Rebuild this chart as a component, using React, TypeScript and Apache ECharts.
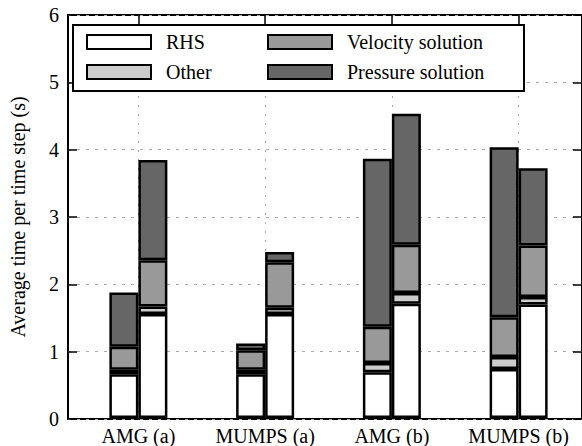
import React, { useEffect, useRef } from "react";
import * as echarts from "echarts";

const categories = ["AMG (a)", "MUMPS (a)", "AMG (b)", "MUMPS (b)"];
const yTicks = [0, 1, 2, 3, 4, 5, 6];

// left bar of each group
const rhsLeft = [0.65, 0.65, 0.68, 0.73];
const otherLeft = [0.07, 0.07, 0.14, 0.18];
const velocityLeft = [0.34, 0.29, 0.54, 0.59];
const pressureLeft = [0.81, 0.1, 2.5, 2.53];
// right bar of each group
const rhsRight = [1.55, 1.55, 1.7, 1.69];
const otherRight = [0.11, 0.09, 0.16, 0.11];
const velocityRight = [0.69, 0.68, 0.72, 0.77];
const pressureRight = [1.49, 0.15, 1.95, 1.15];

const FONT = "Liberation Serif";

export default function App() {
  const ref = useRef<HTMLDivElement>(null);
  useEffect(() => {
    if (!ref.current) return;
    document.body.style.margin = "0";
    const chart = echarts.init(ref.current, null, { renderer: "svg" });
    const layers = [
      { name: "RHS", color: "#ffffff", left: rhsLeft, right: rhsRight },
      { name: "Other", color: "#cccccc", left: otherLeft, right: otherRight },
      { name: "Velocity solution", color: "#999999", left: velocityLeft, right: velocityRight },
      { name: "Pressure solution", color: "#666666", left: pressureLeft, right: pressureRight },
    ];
    const series: any[] = [];
    layers.forEach((l) => {
      ["left", "right"].forEach((side) => {
        series.push({
          type: "bar",
          name: l.name,
          xAxisIndex: 1,
          yAxisIndex: 2,
          stack: side,
          barWidth: 29,
          barGap: "0%",
          data: (l as any)[side],
          itemStyle: { color: l.color, borderColor: "#000", borderWidth: 2.5 },
        });
      });
    });
    const legendCommon = {
      orient: "vertical",
      icon: "rect",
      itemWidth: 64,
      itemHeight: 14,
      itemGap: 10,
      z: 10,
      selectedMode: false,
      textStyle: { fontFamily: FONT, fontSize: 20, color: "#000", padding: [0, 0, 0, 10] },
    };
    const option: any = {
      animation: false,
      grid: [
        { left: 63, right: -1, top: 15, bottom: 27, show: true, borderColor: "#000", borderWidth: 2, backgroundColor: "transparent" },
        { left: 75, width: 512, top: 15, bottom: 27 },
      ],
      legend: [
        { ...legendCommon, left: 81, top: 27, data: ["RHS", "Other"] },
        { ...legendCommon, left: 262, top: 27, data: ["Velocity solution", "Pressure solution"] },
      ],
      graphic: [
        {
          type: "rect",
          z: 8,
          shape: { x: 73, y: 25, width: 451, height: 66 },
          style: { fill: "#fff", stroke: "#000", lineWidth: 2 },
        },
      ],
      xAxis: [
        { gridIndex: 0, type: "value", min: 0, max: 1, show: false },
        {
          gridIndex: 1,
          type: "category",
          data: categories,
          position: "bottom",
          boundaryGap: true,
          axisLine: { show: false },
          axisTick: { show: false },
          axisLabel: { fontFamily: FONT, fontSize: 20, color: "#000", interval: 0, margin: 8 },
          splitLine: { show: true, alignWithLabel: true, lineStyle: { color: "#aaaaaa", type: [2, 7], width: 1 } },
        },
        {
          gridIndex: 1,
          type: "category",
          data: categories,
          position: "top",
          boundaryGap: true,
          axisLine: { show: false },
          axisTick: { show: true, alignWithLabel: true, inside: true, length: 9, lineStyle: { color: "#000", width: 1.5 } },
          axisLabel: { show: false },
          splitLine: { show: false },
        },
      ],
      yAxis: [
        {
          gridIndex: 0,
          type: "value",
          min: yTicks[0],
          max: yTicks[yTicks.length - 1],
          interval: 1,
          position: "left",
          name: "Average time per time step (s)",
          nameLocation: "middle",
          nameGap: 40,
          nameTextStyle: { fontFamily: FONT, fontSize: 20, color: "#000" },
          axisLine: { show: false },
          axisTick: { show: true, inside: true, length: 9, lineStyle: { color: "#000", width: 1.5 } },
          axisLabel: { fontFamily: FONT, fontSize: 20, color: "#000", margin: 9 },
          splitLine: { show: true, lineStyle: { color: "#aaaaaa", type: [3, 6], width: 1 } },
        },
        {
          gridIndex: 0,
          type: "value",
          min: yTicks[0],
          max: yTicks[yTicks.length - 1],
          interval: 1,
          position: "right",
          axisLine: { show: false },
          axisTick: { show: true, inside: true, length: 9, lineStyle: { color: "#000", width: 1.5 } },
          axisLabel: { show: false },
          splitLine: { show: false },
        },
        {
          gridIndex: 1,
          type: "value",
          min: yTicks[0],
          max: yTicks[yTicks.length - 1],
          interval: 1,
          show: false,
        },
      ],
      series,
    };
    chart.setOption(option);
    return () => chart.dispose();
  }, []);
  return <div ref={ref} style={{ width: 582, height: 446 }} />;
}
